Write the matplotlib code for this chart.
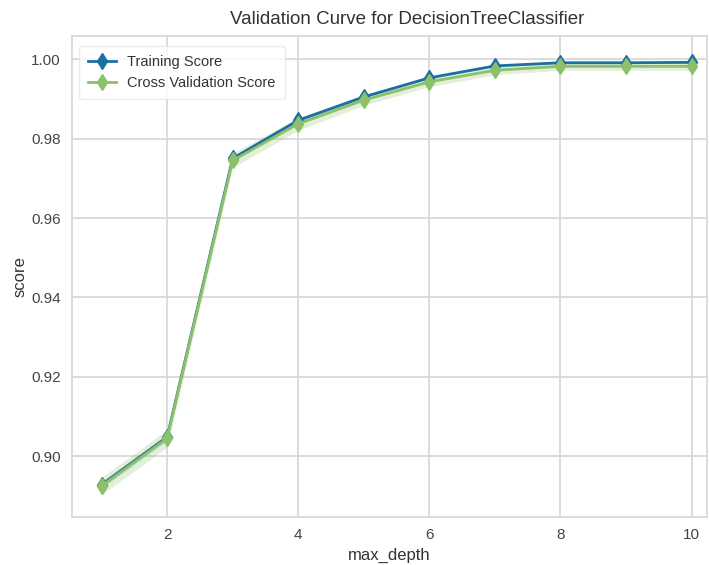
import numpy as np
import matplotlib
matplotlib.use("Agg")
import matplotlib.pyplot as plt

plt.rcParams['font.family'] = ['Liberation Sans', 'DejaVu Sans']

depth = [1, 2, 3, 4, 5, 6, 7, 8, 9, 10]
train_mean = [0.8928, 0.9048, 0.9750, 0.9846, 0.9905, 0.9953, 0.9983, 0.9991, 0.9991, 0.9992]
train_std = [0.0008, 0.0008, 0.0005, 0.0004, 0.0003, 0.0002, 0.0001, 0.0001, 0.0001, 0.0001]
cv_mean = [0.8925, 0.9045, 0.9745, 0.9837, 0.9897, 0.9943, 0.9972, 0.9982, 0.9982, 0.9982]
cv_std = [0.0022, 0.0022, 0.0018, 0.0016, 0.0013, 0.0012, 0.0011, 0.0010, 0.0010, 0.0010]

blue = '#1a6fa3'
green = '#8cc06a'

fig = plt.figure(figsize=(7.09, 5.65), dpi=100)
ax = fig.add_axes([0.1016, 0.085, 0.896, 0.851])

tm, ts = np.array(train_mean), np.array(train_std)
cm, cs = np.array(cv_mean), np.array(cv_std)
ax.fill_between(depth, tm - ts, tm + ts, color=blue, alpha=0.25, lw=0)
ax.fill_between(depth, cm - cs, cm + cs, color=green, alpha=0.25, lw=0)
ax.plot(depth, train_mean, marker='d', color=blue, lw=2, ms=8, label='Training Score')
ax.plot(depth, cv_mean, marker='d', color=green, lw=2, ms=8, label='Cross Validation Score')

ax.set_xlim(0.55, 10.24)
ax.set_ylim(0.8847, 1.0058)
ax.set_xticks([2, 4, 6, 8, 10])
ax.set_yticks([0.90, 0.92, 0.94, 0.96, 0.98, 1.00])
ax.set_yticklabels(['0.90', '0.92', '0.94', '0.96', '0.98', '1.00'])
ax.grid(True, color='#d9d9d9', lw=1.3)
ax.set_axisbelow(True)
for s in ax.spines.values():
    s.set_color('#d9d9d9')
    s.set_linewidth(1.3)
ax.tick_params(length=0, labelsize=11, colors='#444444', pad=8)

ax.set_title('Validation Curve for DecisionTreeClassifier', fontsize=13.5, color='#333333',
             pad=9, x=0.527)
ax.set_xlabel('max_depth', fontsize=12, color='#333333', labelpad=4)
ax.set_ylabel('score', fontsize=12, color='#333333', labelpad=3)

leg = ax.legend(loc='upper left', fontsize=10.5, frameon=True, framealpha=0.8,
                edgecolor='#e6e6e6', borderpad=0.6, handlelength=1.9,
                bbox_to_anchor=(0.0, 0.995))
for t in leg.get_texts():
    t.set_color('#333333')

fig.savefig('out.png', dpi=100)
